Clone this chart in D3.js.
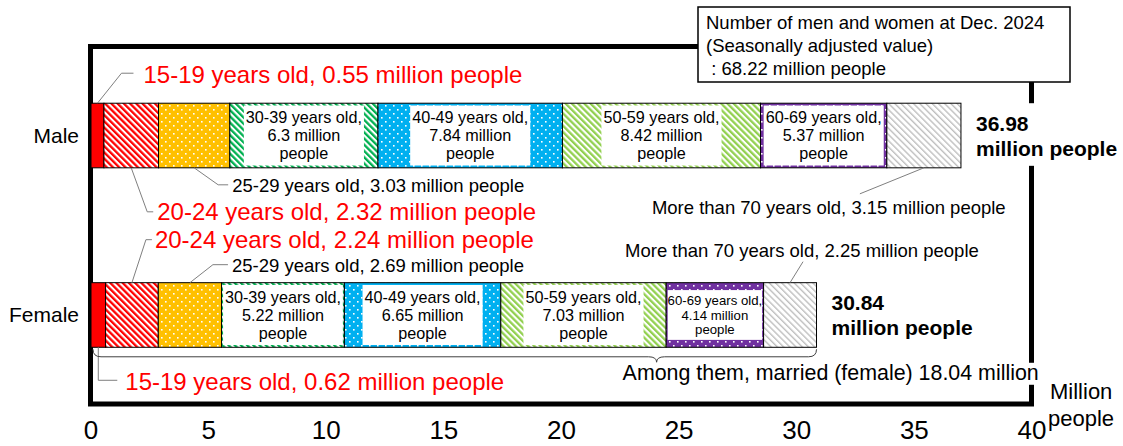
<!DOCTYPE html>
<html><head><meta charset="utf-8">
<script src="https://cdn.jsdelivr.net/npm/d3@7"></script>
<style>body{margin:0;background:#fff} svg{display:block} text{font-family:"Liberation Sans",Arial,sans-serif}</style>
</head><body><svg id="c" width="1123" height="446"></svg>
<script>
// ---------------- data ----------------
const categories = ["Male", "Female"];
const ageGroups = ["15-19 years old", "20-24 years old", "25-29 years old", "30-39 years old",
  "40-49 years old", "50-59 years old", "60-69 years old", "More than 70 years old"];
const maleValues = [0.55, 2.32, 3.03, 6.3, 7.84, 8.42, 5.37, 3.15];
const femaleValues = [0.62, 2.24, 2.69, 5.22, 6.65, 7.03, 4.14, 2.25];
const totals = [36.98, 30.84];
const xTicks = [0, 5, 10, 15, 20, 25, 30, 35, 40];
const totalPeople = "68.22";
const marriedFemale = "18.04";
const noteLines = ["Number of men and women at Dec. 2024", "(Seasonally adjusted value)", " : " + totalPeople + " million people"];
const seriesValues = [maleValues, femaleValues];

// ---------------- styles ----------------
const segStyles = [
  {type: "solid", color: "#FF0000"},
  {type: "stripe", color: "#FF0000"},
  {type: "dots", color: "#FFC000"},
  {type: "stripe", color: "#00B050"},
  {type: "dots", color: "#00B0F0"},
  {type: "stripe", color: "#92D050"},
  {type: "dots", color: "#7030A0"},
  {type: "thin", color: "#BFBFBF"}
];
const RED = "#FF0000";
const LEADER = "#7F7F7F";

const svg = d3.select("#c");
const x = d3.scaleLinear().domain([0, 40]).range([91, 1032]);
const y = d3.scaleBand().domain(categories).range([46.5, 404]).paddingInner(0.64).paddingOuter(0.316);
const bw = y.bandwidth();

// patterns
const defs = svg.append("defs");
segStyles.forEach((s, i) => {
  if (s.type === "solid") return;
  const p = defs.append("pattern").attr("id", "p" + i).attr("patternUnits", "userSpaceOnUse");
  if (s.type === "dots") {
    p.attr("width", 8).attr("height", 8);
    p.append("rect").attr("width", 8).attr("height", 8).attr("fill", s.color);
    p.append("rect").attr("x", 1).attr("y", 1).attr("width", 1.6).attr("height", 1.6).attr("fill", "#fff");
    p.append("rect").attr("x", 5).attr("y", 5).attr("width", 1.6).attr("height", 1.6).attr("fill", "#fff");
  } else {
    const per = s.type === "thin" ? 4.4 : 4.4;
    const w = s.type === "thin" ? 1.4 : 2.3;
    p.attr("width", per).attr("height", per).attr("patternTransform", "rotate(-45)");
    p.append("rect").attr("width", per).attr("height", per).attr("fill", "#fff");
    p.append("rect").attr("width", w).attr("height", per).attr("fill", s.color);
  }
});
const fillOf = i => segStyles[i].type === "solid" ? segStyles[i].color : `url(#p${i})`;

// frame
svg.append("rect")
  .attr("x", x(0) - 0.5).attr("y", y.range()[0])
  .attr("width", x(40) - x(0)).attr("height", y.range()[1] - y.range()[0])
  .attr("fill", "none").attr("stroke", "#000").attr("stroke-width", 5);

// stacked data
const rows = categories.map((c, gi) => {
  const vals = seriesValues[gi];
  const cum = d3.cumsum(vals);
  return vals.map((v, j) => ({cat: c, gi, j, v, x0: cum[j] - v, x1: cum[j]}));
});

const barG = svg.append("g");
rows.forEach(segs => {
  barG.selectAll(null).data(segs).enter().append("rect")
    .attr("x", d => x(d.x0)).attr("y", d => y(d.cat))
    .attr("width", d => x(d.x1) - x(d.x0)).attr("height", bw)
    .attr("fill", d => fillOf(d.j))
    .attr("stroke", "#000").attr("stroke-width", 1);
});

// inside labels (30-39 .. 60-69)
rows.forEach(segs => {
  segs.filter(d => d.j >= 3 && d.j <= 6).forEach(d => {
    const small = d.gi === 1 && d.j === 6;
    const fs = small ? 13.2 : 16.2;
    const lh = small ? 14.6 : 18;
    const cx = (x(d.x0) + x(d.x1)) / 2, cy = y(d.cat) + bw / 2;
    const g = svg.append("g");
    const box = g.append("rect").attr("fill", "#fff");
    const lines = [ageGroups[d.j] + ",", d.v + " million", "people"];
    let maxW = 0;
    lines.forEach((t, k) => {
      const tx = g.append("text").attr("x", cx).attr("y", cy + (k - 1) * lh).attr("dy", "0.35em")
        .attr("text-anchor", "middle").attr("font-size", fs).attr("fill", "#000").text(t);
      maxW = Math.max(maxW, tx.node().getComputedTextLength());
    });
    const segW = x(d.x1) - x(d.x0);
    const bwid = Math.min(maxW + 4, segW - 3);
    const bh = Math.min(3 * lh + 6, bw - 3);
    box.attr("x", cx - bwid / 2).attr("y", cy - bh / 2).attr("width", bwid).attr("height", bh);
  });
});

// leader labels
const leaders = [
  {gi: 0, j: 0, side: "top", pts: [[0, 0], [24, -30], [36, -30]], t: [46, -29], red: true},
  {gi: 0, j: 2, side: "bottom", pts: [[0, 0], [24, 17], [34, 17]], t: [38, 18], red: false},
  {gi: 0, j: 1, side: "bottom", pts: [[0, 0], [16, 44], [22, 44]], t: [26, 44], red: true},
  {gi: 0, j: 7, side: "bottom", pts: [[0, 0], [-64, 26]], t: [-272, 40], red: false},
  {gi: 1, j: 1, side: "top", pts: [[0, 0], [14, -43], [20, -43]], t: [23, -43], red: true},
  {gi: 1, j: 2, side: "top", pts: [[0, 0], [23, -18], [38, -18]], t: [42, -17], red: false},
  {gi: 1, j: 7, side: "top", pts: [[0, 0], [13, -21]], t: [-165, -32], red: false},
  {gi: 1, j: 0, side: "bottom", pts: [[0, 0], [0, 33], [19, 33]], t: [27, 34], red: true}
];
leaders.forEach(L => {
  const d = rows[L.gi][L.j];
  const ax = (x(d.x0) + x(d.x1)) / 2;
  const ay = L.side === "top" ? y(d.cat) : y(d.cat) + bw;
  svg.append("path")
    .attr("d", d3.line()(L.pts.map(p => [ax + p[0], ay + p[1]])))
    .attr("fill", "none").attr("stroke", LEADER).attr("stroke-width", 1);
  svg.append("text").attr("x", ax + L.t[0]).attr("y", ay + L.t[1]).attr("dy", "0.35em")
    .attr("font-size", L.red ? 24 : 18.5).attr("fill", L.red ? RED : "#000")
    .text(`${ageGroups[L.j]}, ${d.v} million people`);
});

// category labels
svg.selectAll(null).data(categories).enter().append("text")
  .attr("x", x(0) - 12).attr("y", c => y(c) + bw / 2).attr("dy", "0.35em")
  .attr("text-anchor", "end").attr("font-size", 21).text(c => c);

// totals
categories.forEach((c, gi) => {
  const tx = x(totals[gi]) + 15, cy = y(c) + bw / 2;
  const g = svg.append("g");
  const bg = g.append("rect").attr("fill", "#fff");
  g.append("text").attr("x", tx).attr("y", cy - 5).attr("font-size", 21).attr("font-weight", "bold").text(totals[gi].toFixed(2));
  g.append("text").attr("x", tx).attr("y", cy + 20).attr("font-size", 21).attr("font-weight", "bold").text("million people");
  const bb = g.node().getBBox();
  bg.attr("x", bb.x - 4).attr("y", y(c)).attr("width", bb.width + 8).attr("height", bw - 2);
});

// brace under female bar
{
  const fy = y("Female") + bw;
  const x0 = x(0) + 2, x1 = x(totals[1]);
  const tip = x0 + 0.779 * (x1 - x0);
  const top = fy + 2, mid = fy + 9.5, bot = fy + 15;
  const p = d3.path();
  p.moveTo(x0, top); p.quadraticCurveTo(x0, mid, x0 + 8, mid);
  p.lineTo(tip - 8, mid); p.quadraticCurveTo(tip, mid, tip, bot);
  p.quadraticCurveTo(tip, mid, tip + 8, mid);
  p.lineTo(x1 - 8, mid); p.quadraticCurveTo(x1, mid, x1, top);
  svg.append("path").attr("d", p.toString()).attr("fill", "none").attr("stroke", "#404040").attr("stroke-width", 1);
  const g = svg.append("g");
  const bg = g.append("rect").attr("fill", "#fff");
  g.append("text").attr("x", tip - 34).attr("y", fy + 25).attr("dy", "0.35em").attr("font-size", 21.4)
    .text(`Among them, married (female) ${marriedFemale} million`);
  const bb = g.node().getBBox();
  bg.attr("x", bb.x - 2).attr("y", bb.y + 2).attr("width", bb.width + 4).attr("height", bb.height - 2);
}

// note box
{
  const g = svg.append("g");
  g.append("rect").attr("x", 698).attr("y", 7).attr("width", 372).attr("height", 75)
    .attr("fill", "#fff").attr("stroke", "#000").attr("stroke-width", 1.5);
  noteLines.forEach((t, k) => {
    g.append("text").attr("x", 706).attr("y", 29 + k * 23).attr("font-size", 18.5)
      .style("white-space", "pre").text(t);
  });
}

// x tick labels
svg.selectAll(null).data(xTicks).enter().append("text")
  .attr("x", d => x(d)).attr("y", 439).attr("text-anchor", "middle").attr("font-size", 26).text(d => d);

// unit
svg.append("text").attr("x", x(40) + 18).attr("y", 399).attr("font-size", 22).text("Million");
svg.append("text").attr("x", x(40) + 16).attr("y", 426).attr("font-size", 22).text("people");
</script></body></html>
